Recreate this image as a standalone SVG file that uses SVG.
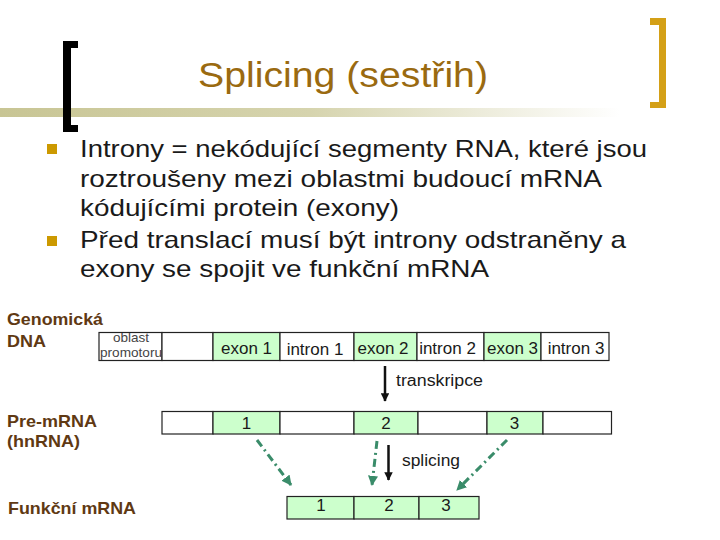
<svg xmlns="http://www.w3.org/2000/svg" width="720" height="540" viewBox="0 0 720 540">
<style>
text{font-family:"Liberation Sans",Arial,sans-serif}
.title{font-size:35px;fill:#9A6A10}
.body{font-size:24px;fill:#1a1a1a}
.lbl{font-size:17px;font-weight:bold;fill:#603913}
.cell{font-size:17px;fill:#1a1a1a;text-anchor:middle}
.small{font-size:13.5px;fill:#444}
.note{font-size:16px;fill:#1a1a1a}
.ex{fill:#CCFFCC;stroke:#222;stroke-width:1.2}
.in{fill:#fff;stroke:#222;stroke-width:1.2}
.blk{stroke:#111;stroke-width:2.5;fill:none}
.dd{stroke:#3A8C6A;stroke-width:3;fill:none;stroke-dasharray:8 4 2 4}
</style>
<defs>
<linearGradient id="g" x1="0" y1="0" x2="1" y2="0">
<stop offset="0" stop-color="#C8C594"/>
<stop offset="0.5" stop-color="#D6D4AE"/>
<stop offset="1" stop-color="#ffffff"/>
</linearGradient>
<marker id="ab" viewBox="0 0 10 10" refX="9" refY="5" markerWidth="3.4" markerHeight="3.4" orient="auto"><path d="M0,0L10,5L0,10z" fill="#111"/></marker>
<marker id="ag" viewBox="0 0 10 10" refX="9" refY="5" markerWidth="3.4" markerHeight="3.4" orient="auto"><path d="M0,0L10,5L0,10z" fill="#3A8C6A"/></marker>
</defs>
<rect width="720" height="540" fill="#fff"/>
<g id="header">
<rect x="0" y="108" width="620" height="9" fill="url(#g)"/>
<path d="M63,41H78V48H71V125H78V132H63Z" fill="#000"/>
<path d="M650,18H666V108H650V102H659V25H650Z" fill="#D4A017"/>
<text class="title" x="198" y="87" textLength="290" lengthAdjust="spacingAndGlyphs">Splicing (sestřih)</text>
</g>
<g id="bullets">
<rect x="47" y="144" width="10" height="10" fill="#CC9900"/>
<rect x="47" y="236" width="10" height="10" fill="#CC9900"/>
<text class="body" x="80" y="157" textLength="567" lengthAdjust="spacingAndGlyphs">Introny = nekódující segmenty RNA, které jsou</text>
<text class="body" x="80" y="187" textLength="522" lengthAdjust="spacingAndGlyphs">roztroušeny mezi oblastmi budoucí mRNA</text>
<text class="body" x="80" y="216" textLength="319" lengthAdjust="spacingAndGlyphs">kódujícími protein (exony)</text>
<text class="body" x="80" y="248" textLength="546" lengthAdjust="spacingAndGlyphs">Před translací musí být introny odstraněny a</text>
<text class="body" x="80" y="277" textLength="409" lengthAdjust="spacingAndGlyphs">exony se spojit ve funkční mRNA</text>
</g>
<g id="labels">
<text class="lbl" x="7" y="325" textLength="96" lengthAdjust="spacingAndGlyphs">Genomická</text>
<text class="lbl" x="7" y="347" textLength="39" lengthAdjust="spacingAndGlyphs">DNA</text>
<text class="lbl" x="7" y="427" textLength="90" lengthAdjust="spacingAndGlyphs">Pre-mRNA</text>
<text class="lbl" x="7" y="447" textLength="73" lengthAdjust="spacingAndGlyphs">(hnRNA)</text>
<text class="lbl" x="8" y="514" textLength="128" lengthAdjust="spacingAndGlyphs">Funkční mRNA</text>
</g>
<g id="dna">
<rect class="in" x="99" y="332.5" width="63" height="28"/>
<rect class="in" x="162" y="332.5" width="51" height="28"/>
<rect class="ex" x="213" y="332.5" width="67" height="28"/>
<rect class="in" x="280" y="332.5" width="74" height="28"/>
<rect class="ex" x="354" y="332.5" width="63" height="28"/>
<rect class="in" x="417" y="332.5" width="67" height="28"/>
<rect class="ex" x="484" y="332.5" width="57" height="28"/>
<rect class="in" x="541" y="332.5" width="68" height="28"/>
<text class="small" x="131" y="342" text-anchor="middle">oblast</text>
<text class="small" x="100" y="357" textLength="62" lengthAdjust="spacingAndGlyphs">promotoru</text>
<text class="cell" x="246.5" y="354">exon 1</text>
<text class="cell" x="315" y="355">intron 1</text>
<text class="cell" x="383" y="354">exon 2</text>
<text class="cell" x="447.5" y="354">intron 2</text>
<text class="cell" x="512.5" y="354">exon 3</text>
<text class="cell" x="576" y="354">intron 3</text>
</g>
<g id="premrna">
<rect class="in" x="162" y="411.5" width="51" height="22.5"/>
<rect class="ex" x="213" y="411.5" width="67" height="22.5"/>
<rect class="in" x="280" y="411.5" width="74" height="22.5"/>
<rect class="ex" x="354" y="411.5" width="64" height="22.5"/>
<rect class="in" x="418" y="411.5" width="69" height="22.5"/>
<rect class="ex" x="487" y="411.5" width="56" height="22.5"/>
<rect class="in" x="543" y="411.5" width="68.5" height="22.5"/>
<text class="cell" x="246.5" y="429">1</text>
<text class="cell" x="386" y="429">2</text>
<text class="cell" x="514.5" y="429">3</text>
</g>
<g id="mrna">
<rect class="ex" x="287" y="496.5" width="67" height="22.5"/>
<rect class="ex" x="354" y="496.5" width="65" height="22.5"/>
<rect class="ex" x="419" y="496.5" width="60" height="22.5"/>
<text class="cell" x="321" y="511">1</text>
<text class="cell" x="389" y="511">2</text>
<text class="cell" x="446" y="511">3</text>
</g>
<g id="connectors">
<line class="blk" x1="385" y1="366" x2="385" y2="401" marker-end="url(#ab)"/>
<text class="note" x="396" y="386" textLength="87" lengthAdjust="spacingAndGlyphs">transkripce</text>
<line class="blk" x1="388.5" y1="445" x2="388.5" y2="480" marker-end="url(#ab)"/>
<text class="note" x="402" y="466" textLength="58" lengthAdjust="spacingAndGlyphs">splicing</text>
<line class="dd" x1="257" y1="440" x2="291" y2="485" marker-end="url(#ag)"/>
<line class="dd" x1="377" y1="441" x2="372" y2="485" marker-end="url(#ag)"/>
<line class="dd" x1="507" y1="440" x2="457" y2="490" marker-end="url(#ag)"/>
</g>
</svg>
